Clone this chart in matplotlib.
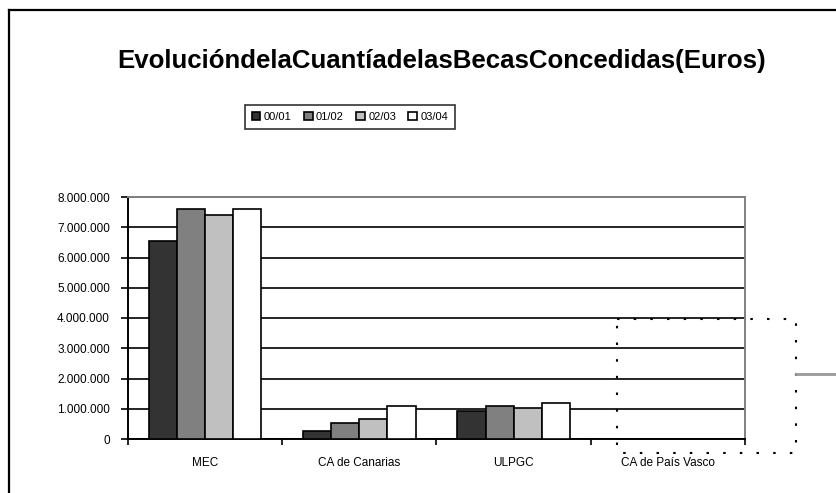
import matplotlib
matplotlib.use("Agg")
import matplotlib.pyplot as plt
import numpy as np
from matplotlib.lines import Line2D
from matplotlib.ticker import FuncFormatter

categories = ["MEC", "CA de Canarias", "ULPGC", "CA de País Vasco"]
series_names = ["00/01", "01/02", "02/03", "03/04"]
v_0001 = [6550000, 260000, 930000, 0]
v_0102 = [7590000, 520000, 1100000, 0]
v_0203 = [7390000, 660000, 1030000, 0]
v_0304 = [7590000, 1100000, 1180000, 0]
y_ticks = [0, 1000000, 2000000, 3000000, 4000000, 5000000, 6000000, 7000000, 8000000]
title = "EvolucióndelaCuantíadelasBecasConcedidas(Euros)"

colors = ["#333333", "#808080", "#c0c0c0", "#ffffff"]
plt.rcParams['font.family'] = ['Liberation Sans', 'DejaVu Sans']

W, H = 837, 493
fig = plt.figure(figsize=(W / 100, H / 100), dpi=100)
ax = fig.add_axes([128 / W, 1 - 439 / H, (745 - 128) / W, (439 - 197) / H])

x = np.arange(len(categories))
bw = 0.182
vals = [v_0001, v_0102, v_0203, v_0304]
for i, (name, v, c) in enumerate(zip(series_names, vals, colors)):
    ax.bar(x + (i - 1.5) * bw, v, width=bw, color=c, edgecolor="black",
           linewidth=1.2, label=name, zorder=3)

ax.set_xlim(-0.5, len(categories) - 0.5)
ax.set_ylim(0, 8000000)
ax.set_yticks(y_ticks)
ax.yaxis.set_major_formatter(FuncFormatter(lambda v, p: f"{int(v):,}".replace(",", ".")))
ax.set_xticks(x)
ax.set_xticklabels(categories)
ax.set_xticks(np.arange(-0.5, len(categories)), minor=True)
ax.tick_params(axis="x", which="major", length=0, pad=13, labelsize=8.5)
ax.tick_params(axis="x", which="minor", length=4, width=1.2, direction="out")
ax.tick_params(axis="y", length=5, width=1.2, direction="out", pad=8, labelsize=8.5)
ax.yaxis.grid(True, color="black", linewidth=1.2, zorder=0)
ax.set_axisbelow(True)
for s in ["left", "bottom"]:
    ax.spines[s].set_color("black")
    ax.spines[s].set_linewidth(1.4)
for s in ["top", "right"]:
    ax.spines[s].set_color("#808080")
    ax.spines[s].set_linewidth(1.4)

fig.text(442 / W, 1 - 61 / H, title, ha="center", va="center",
         fontsize=18.6, fontweight="bold")

leg = fig.legend(loc="center", bbox_to_anchor=(350 / W, 1 - 117 / H), ncol=4,
                 frameon=True, fancybox=False, edgecolor="black", fontsize=8,
                 handlelength=0.8, handleheight=0.8, handletextpad=0.3,
                 columnspacing=1.1, borderpad=0.6, borderaxespad=0)
leg.get_frame().set_linewidth(1.2)

# outer chart frame
fig.add_artist(Line2D([9 / W, 9 / W], [0, 1 - 10 / H], color="black", linewidth=1.6,
                      transform=fig.transFigure))
fig.add_artist(Line2D([9 / W, 1], [1 - 10 / H, 1 - 10 / H], color="black", linewidth=1.6,
                      transform=fig.transFigure))

# dotted selection box and gray connector line
bx = [617 / W, 796 / W, 796 / W, 617 / W, 617 / W]
by = [1 - 319 / H, 1 - 319 / H, 1 - 453 / H, 1 - 453 / H, 1 - 319 / H]
fig.add_artist(Line2D(bx, by, color="black", linewidth=1.5, linestyle=(0, (1.2, 6.8)),
                      transform=fig.transFigure, zorder=10))
fig.add_artist(Line2D([796 / W, 1], [1 - 374 / H, 1 - 374 / H], color="#999999",
                      linewidth=2, transform=fig.transFigure, zorder=10))

fig.savefig("out.png", dpi=100)
